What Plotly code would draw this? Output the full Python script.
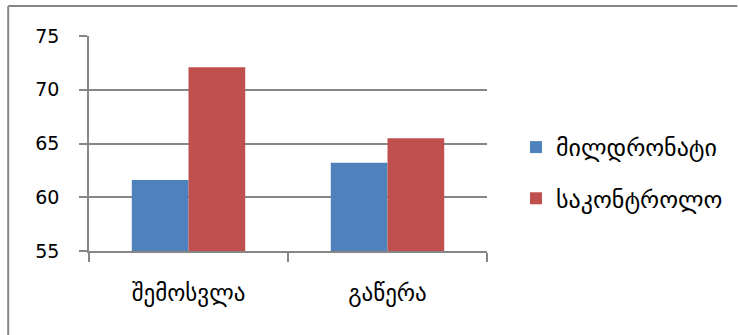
import plotly.graph_objects as go

# Category labels and series values
categories = ["შემოსვლა", "გაწერა"]
series_names = ["მილდრონატი", "საკონტროლო"]
mildronate = [61.6, 63.2]
control = [72.1, 65.5]
y_ticks = [55, 60, 65, 70, 75]

colors = ["#4F81BD", "#C0504D"]
axis_gray = "#868686"
font_family = "DejaVu Sans"

W, H = 739, 335
L, R, T, B = 89, 251, 36, 84
pw, ph = W - L - R, H - T - B

fig = go.Figure()
for i, (name, vals) in enumerate(zip(series_names, [mildronate, control])):
    fig.add_trace(go.Bar(
        x=categories, y=vals, name=name,
        marker=dict(color=colors[i], line=dict(width=0)),
        legendgroup=f"g{i}",
    ))

# Outer frame lines (top and left edges)
def px_x(x):
    return (x - L) / pw

def px_y(y):
    return 1 - (y - T) / ph

frame = dict(color=axis_gray, width=2)
fig.add_shape(type="line", xref="paper", yref="paper",
              x0=px_x(8), x1=px_x(739), y0=px_y(6), y1=px_y(6), line=frame)
fig.add_shape(type="line", xref="paper", yref="paper",
              x0=px_x(8), x1=px_x(8), y0=px_y(6), y1=px_y(335), line=frame)

fig.update_layout(
    width=W, height=H,
    margin=dict(l=L, r=R, t=T, b=B, pad=0),
    paper_bgcolor="white", plot_bgcolor="white",
    barmode="group", bargap=0.43, bargroupgap=0,
    font=dict(family=font_family, size=18, color="#000000"),
    showlegend=True,
    legend=dict(
        x=px_x(516), xanchor="left", y=px_y(125), yanchor="top",
        font=dict(family=font_family, size=24, color="#000000"),
        tracegroupgap=17, bgcolor="rgba(0,0,0,0)",
    ),
    xaxis=dict(
        showline=True, linecolor=axis_gray, linewidth=1.5,
        ticks="outside", tickson="boundaries", ticklen=9,
        tickcolor=axis_gray, tickwidth=1.5,
        tickfont=dict(family=font_family, size=23),
        ticklabelstandoff=21,
        showgrid=False,
    ),
    yaxis=dict(
        range=[55, 75], tickvals=y_ticks,
        showline=True, linecolor=axis_gray, linewidth=1.5,
        ticks="outside", ticklen=8, tickcolor=axis_gray, tickwidth=1.5,
        showgrid=True, gridcolor=axis_gray, gridwidth=1.5,
        zeroline=False,
        tickfont=dict(family=font_family, size=19),
        ticklabelstandoff=16,
    ),
)

fig.write_html("out.html")
